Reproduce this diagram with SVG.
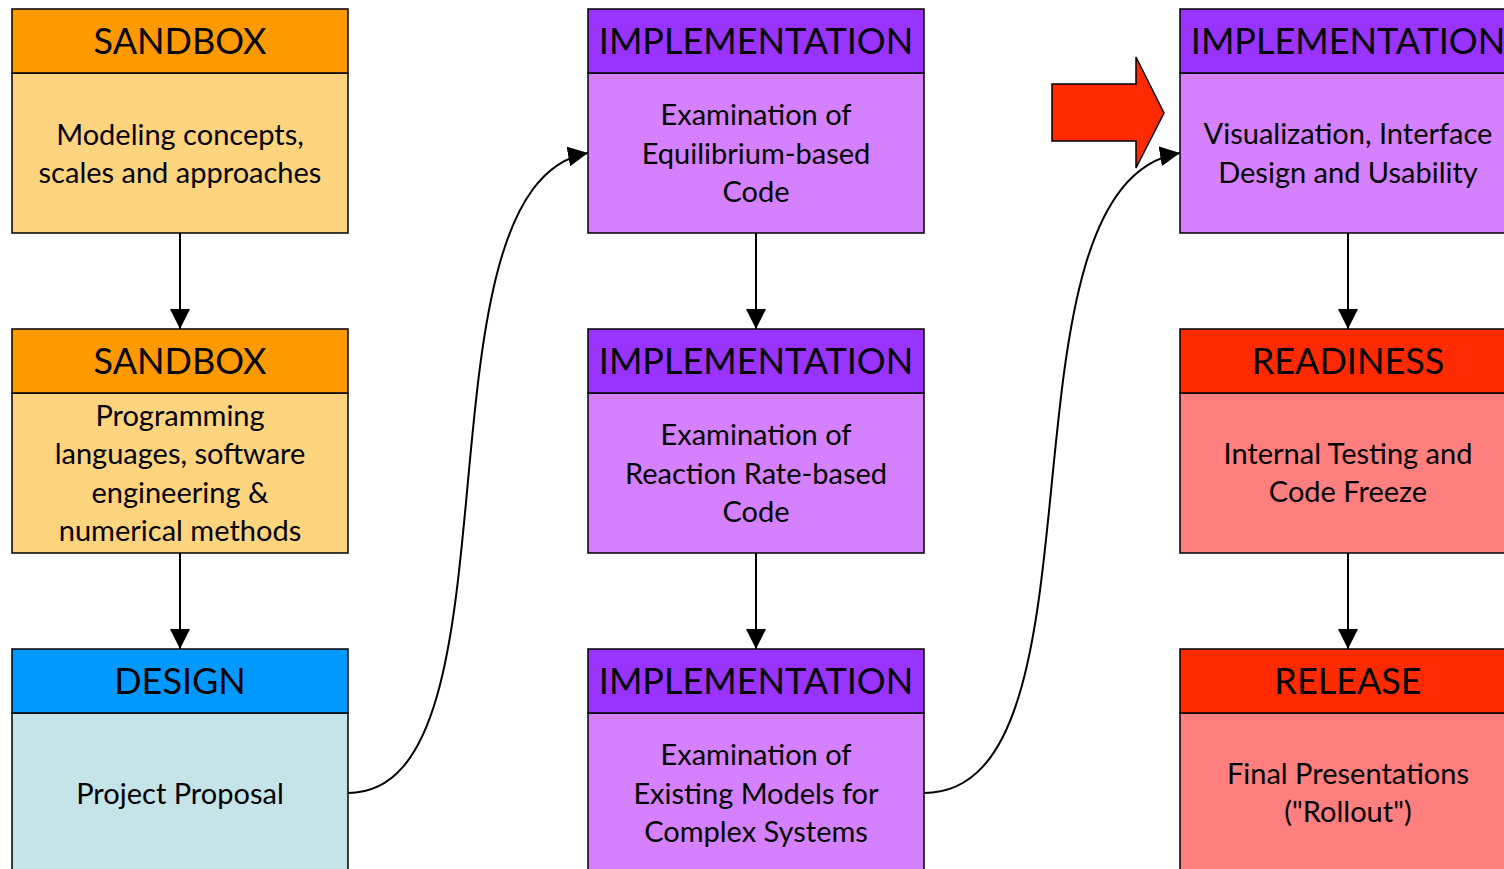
<svg xmlns="http://www.w3.org/2000/svg" width="1504" height="869" viewBox="0 0 1504 869">
<style>
.box{stroke:#000;stroke-width:1.5}
.hd{font-family:Lato,"Liberation Sans",sans-serif;font-size:36px;text-anchor:middle;fill:#000}
.tx{font-family:Lato,"Liberation Sans",sans-serif;font-size:29px;text-anchor:middle;fill:#000}
.sb-h{fill:#FF9900}.sb-b{fill:#FFD47F}
.im-h{fill:#9933FF}.im-b{fill:#D580FF}
.de-h{fill:#0099FF}.de-b{fill:#C4E4E8}
.rd-h{fill:#FF2A00}.rd-b{fill:#FF7F7F}
.con{fill:none;stroke:#000;stroke-width:2}
</style>
<defs>
<marker id="ah" markerUnits="userSpaceOnUse" markerWidth="20" markerHeight="20" refX="20" refY="10" orient="auto" viewBox="0 0 20 20">
<path d="M0,0 L20,10 L0,20 z" fill="#000"/>
</marker>
</defs>
<rect width="1504" height="869" fill="#fff"/>
<g id="connectors">
<line class="con" x1="180" y1="233" x2="180" y2="329" marker-end="url(#ah)"/>
<line class="con" x1="180" y1="553" x2="180" y2="649" marker-end="url(#ah)"/>
<line class="con" x1="756" y1="233" x2="756" y2="329" marker-end="url(#ah)"/>
<line class="con" x1="756" y1="553" x2="756" y2="649" marker-end="url(#ah)"/>
<line class="con" x1="1348" y1="233" x2="1348" y2="329" marker-end="url(#ah)"/>
<line class="con" x1="1348" y1="553" x2="1348" y2="649" marker-end="url(#ah)"/>
<path class="con" d="M348,793 C530,793 405,185 588,153" marker-end="url(#ah)"/>
<path class="con" d="M924,793 C1118,793 985,185 1180,153" marker-end="url(#ah)"/>
</g>
<g id="sandbox1">
<rect class="box sb-b" x="12" y="73" width="336" height="160"/>
<rect class="box sb-h" x="12" y="9" width="336" height="64"/>
<text class="hd" x="180" y="54">SANDBOX</text>
<text class="tx" x="180" y="145">Modeling concepts,</text>
<text class="tx" x="180" y="183">scales and approaches</text>
</g>
<g id="sandbox2">
<rect class="box sb-b" x="12" y="393" width="336" height="160"/>
<rect class="box sb-h" x="12" y="329" width="336" height="64"/>
<text class="hd" x="180" y="374">SANDBOX</text>
<text class="tx" x="180" y="426">Programming</text>
<text class="tx" x="180" y="464">languages, software</text>
<text class="tx" x="180" y="503">engineering &amp;</text>
<text class="tx" x="180" y="541">numerical methods</text>
</g>
<g id="design">
<rect class="box de-b" x="12" y="713" width="336" height="180"/>
<rect class="box de-h" x="12" y="649" width="336" height="64"/>
<text class="hd" x="180" y="694">DESIGN</text>
<text class="tx" x="180" y="804">Project Proposal</text>
</g>
<g id="impl1">
<rect class="box im-b" x="588" y="73" width="336" height="160"/>
<rect class="box im-h" x="588" y="9" width="336" height="64"/>
<text class="hd" x="756" y="54">IMPLEMENTATION</text>
<text class="tx" x="756" y="125">Examination of</text>
<text class="tx" x="756" y="164">Equilibrium-based</text>
<text class="tx" x="756" y="202">Code</text>
</g>
<g id="impl2">
<rect class="box im-b" x="588" y="393" width="336" height="160"/>
<rect class="box im-h" x="588" y="329" width="336" height="64"/>
<text class="hd" x="756" y="374">IMPLEMENTATION</text>
<text class="tx" x="756" y="445">Examination of</text>
<text class="tx" x="756" y="484">Reaction Rate-based</text>
<text class="tx" x="756" y="522">Code</text>
</g>
<g id="impl3">
<rect class="box im-b" x="588" y="713" width="336" height="180"/>
<rect class="box im-h" x="588" y="649" width="336" height="64"/>
<text class="hd" x="756" y="694">IMPLEMENTATION</text>
<text class="tx" x="756" y="765">Examination of</text>
<text class="tx" x="756" y="804">Existing Models for</text>
<text class="tx" x="756" y="842">Complex Systems</text>
</g>
<g id="impl4">
<rect class="box im-b" x="1180" y="73" width="336" height="160"/>
<rect class="box im-h" x="1180" y="9" width="336" height="64"/>
<text class="hd" x="1348" y="54">IMPLEMENTATION</text>
<text class="tx" x="1348" y="144">Visualization, Interface</text>
<text class="tx" x="1348" y="183">Design and Usability</text>
</g>
<g id="readiness">
<rect class="box rd-b" x="1180" y="393" width="336" height="160"/>
<rect class="box rd-h" x="1180" y="329" width="336" height="64"/>
<text class="hd" x="1348" y="374">READINESS</text>
<text class="tx" x="1348" y="464">Internal Testing and</text>
<text class="tx" x="1348" y="502">Code Freeze</text>
</g>
<g id="release">
<rect class="box rd-b" x="1180" y="713" width="336" height="180"/>
<rect class="box rd-h" x="1180" y="649" width="336" height="64"/>
<text class="hd" x="1348" y="694">RELEASE</text>
<text class="tx" x="1348" y="784">Final Presentations</text>
<text class="tx" x="1348" y="822">("Rollout")</text>
</g>
<g id="bigarrow">
<polygon points="1052,84 1136,84 1136,57 1164,113 1136,168 1136,141 1052,141" fill="#FF2A00" stroke="#000" stroke-width="1.5"/>
</g>
</svg>
